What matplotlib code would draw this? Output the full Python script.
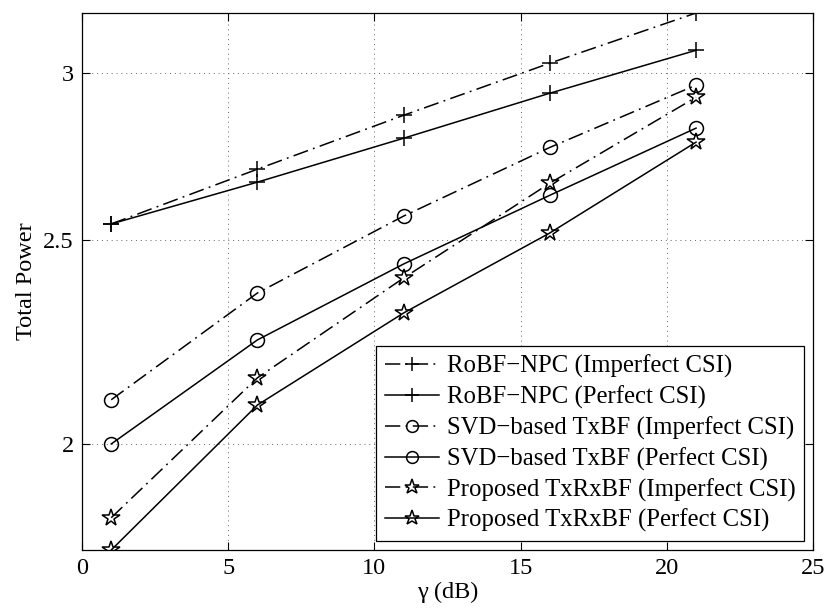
import matplotlib
matplotlib.use("Agg")
import matplotlib.pyplot as plt
from matplotlib.ticker import FixedLocator, NullLocator, FixedFormatter

plt.rcParams['font.family'] = ['Liberation Serif', 'DejaVu Serif']
plt.rcParams['mathtext.fontset'] = 'stix'

gamma_db = [1, 6, 11, 16, 21]
robf_imperfect = [2.544, 2.701, 2.865, 3.033, 3.204]
robf_perfect = [2.544, 2.663, 2.794, 2.935, 3.076]
svd_imperfect = [2.099, 2.359, 2.566, 2.766, 2.961]
svd_perfect = [2.000, 2.241, 2.435, 2.625, 2.825]
prop_imperfect = [1.845, 2.150, 2.398, 2.660, 2.922]
prop_perfect = [1.781, 2.087, 2.308, 2.519, 2.782]

labels = ['RoBF\u2212NPC (Imperfect CSI)', 'RoBF\u2212NPC (Perfect CSI)',
          'SVD\u2212based TxBF (Imperfect CSI)', 'SVD\u2212based TxBF (Perfect CSI)',
          'Proposed TxRxBF (Imperfect CSI)', 'Proposed TxRxBF (Perfect CSI)']
xticks = [0, 5, 10, 15, 20, 25]
yticks = [2, 2.5, 3]
ytick_labels = ['2', '2.5', '3']

fig = plt.figure(figsize=(8.29, 6.11), dpi=100)
ax = fig.add_axes([82/829, 61/611, 731/829, 537/611])

dashdot = (0, (10, 3.5, 1.2, 3.5))
series = [
    (robf_imperfect, dashdot, '+', 12),
    (robf_perfect, '-', '+', 12),
    (svd_imperfect, dashdot, 'o', 10),
    (svd_perfect, '-', 'o', 10),
    (prop_imperfect, dashdot, '*', 13),
    (prop_perfect, '-', '*', 13),
]
for (vals, ls, mk, ms), lab in zip(series, labels):
    ax.plot(gamma_db, vals, linestyle=ls, marker=mk, markersize=ms, color='black',
            markerfacecolor='none', markeredgecolor='black', markeredgewidth=1.1,
            linewidth=1.1, label=lab)

ax.set_yscale('log')
ax.set_xlim(0, 25)
all_vals = robf_imperfect + robf_perfect + svd_imperfect + svd_perfect + prop_imperfect + prop_perfect
ax.set_ylim(min(all_vals), max(all_vals))
ax.set_xticks(xticks)
ax.yaxis.set_major_locator(FixedLocator(yticks))
ax.yaxis.set_major_formatter(FixedFormatter(ytick_labels))
ax.yaxis.set_minor_locator(NullLocator())
ax.xaxis.set_minor_locator(NullLocator())

ax.grid(True, which='major', linestyle=(0, (1, 4)), color='#666666', linewidth=0.7)
ax.tick_params(direction='in', top=True, right=True, length=6, width=0.8,
               labelsize=17.5, pad=6)
for s in ax.spines.values():
    s.set_linewidth(0.9)

ax.set_xlabel('\u03b3 (dB)', fontsize=17.5, labelpad=2)
ax.set_ylabel('Total Power', fontsize=17.5, labelpad=4)

leg = ax.legend(loc='lower right', bbox_to_anchor=(0.9877, 0.0168), borderaxespad=0,
                fontsize=17.8, fancybox=False, framealpha=1, edgecolor='black',
                handlelength=2.2, handletextpad=0.3, labelspacing=0.3,
                borderpad=0.35, markerscale=0.85)
leg.get_frame().set_linewidth(0.9)

fig.savefig('out.png', dpi=100)
